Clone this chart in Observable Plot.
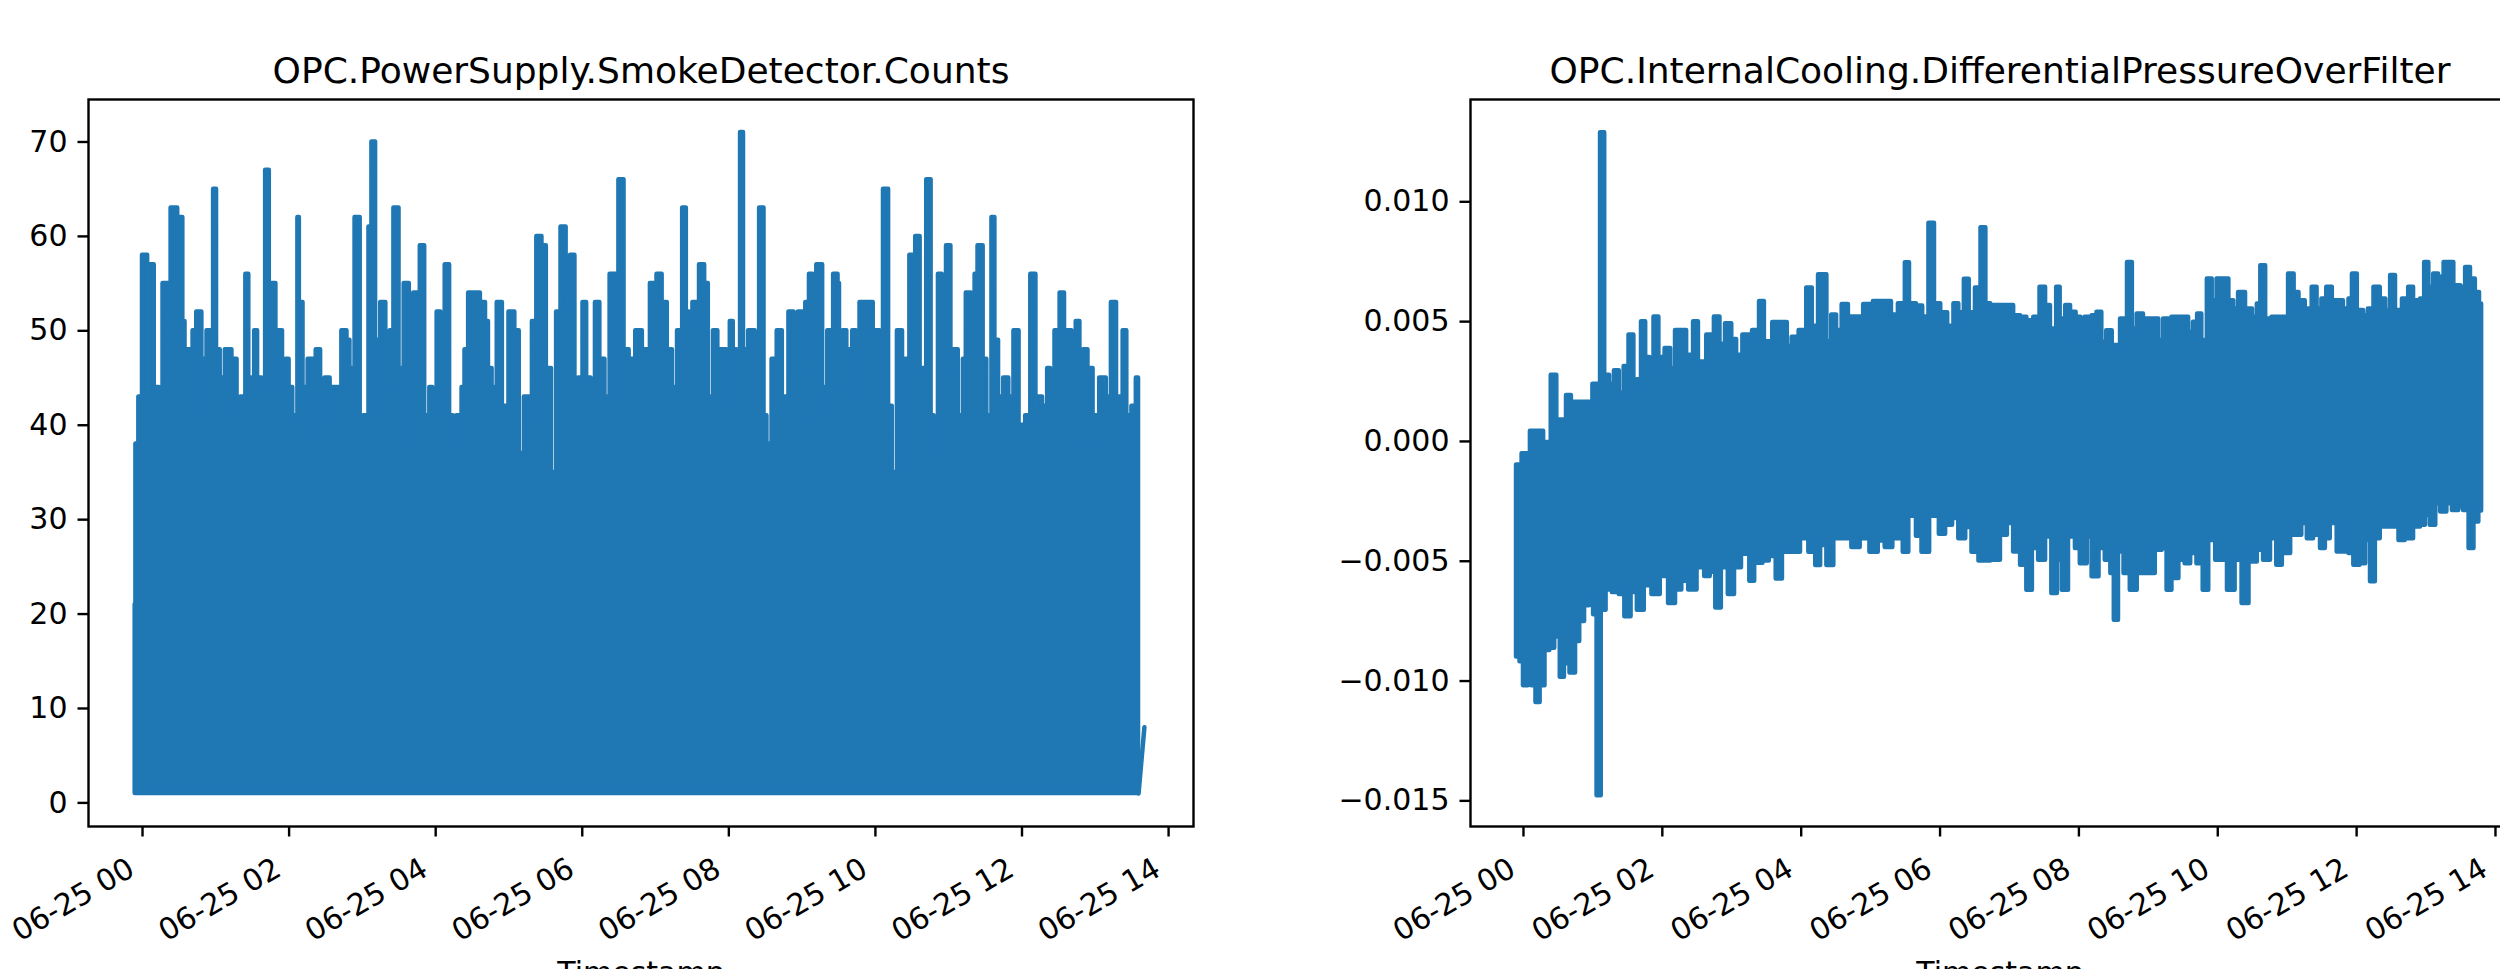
<!DOCTYPE html>
<html>
<head>
<meta charset="utf-8">
<script src="https://cdn.jsdelivr.net/npm/d3@7"></script>
<script src="https://cdn.jsdelivr.net/npm/@observablehq/plot@0.6"></script>
<style>
  body { margin: 0; background: #fff; overflow: hidden; }
  #fig { position: relative; width: 2500px; height: 969px; overflow: hidden; background: #fff; }
  .panel { position: absolute; top: 0; }
  .panel svg { max-width: none !important; display: block; }
</style>
</head>
<body>
<div id="fig">
  <div class="panel" id="left" style="left:0px"></div>
  <div class="panel" id="right" style="left:1250px"></div>
</div>
<script>
// ---------- text ----------
const smokeTitle = "OPC.PowerSupply.SmokeDetector.Counts";
const pressureTitle = "OPC.InternalCooling.DifferentialPressureOverFilter";
const xAxisLabel = "Timestamp";

// ---------- ticks ----------
const xTickHours = [0, 2, 4, 6, 8, 10, 12, 14];
const smokeYTicks = [0, 10, 20, 30, 40, 50, 60, 70];
const pressureYTicks = [-0.015, -0.010, -0.005, 0.000, 0.005, 0.010];

// ---------- smoke detector counts: skyline of the peaks (hours after 06-25 00:00) ----------
const smokeFloor = 1;
const smokeHours = [
  -0.10,-0.09,-0.05,0.00,0.07,0.09,0.16,0.23,0.28,0.39,0.48,0.55,0.58,0.67,0.69,0.74,0.81,0.85,0.88,0.97,
  1.01,1.06,1.13,1.22,1.29,1.34,1.41,1.45,1.49,1.53,1.57,1.63,1.68,1.73,1.77,1.82,1.91,1.96,2.00,2.05,
  2.12,2.14,2.19,2.26,2.33,2.37,2.43,2.49,2.56,2.72,2.79,2.83,2.90,2.97,3.02,3.09,3.13,3.18,3.25,3.32,
  3.38,3.43,3.50,3.57,3.64,3.70,3.79,3.85,3.92,3.96,4.02,4.07,4.13,4.19,4.24,4.29,4.36,4.40,4.45,4.61,
  4.68,4.72,4.77,4.84,4.91,5.00,5.08,5.14,5.21,5.28,5.32,5.38,5.45,5.51,5.58,5.65,5.71,5.78,5.84,5.90,
  5.95,6.01,6.06,6.12,6.18,6.24,6.31,6.38,6.50,6.57,6.64,6.73,6.82,6.93,7.02,7.09,7.16,7.23,7.30,7.37,
  7.42,7.46,7.51,7.60,7.67,7.72,7.79,7.85,7.97,8.02,8.06,8.11,8.16,8.20,8.27,8.36,8.42,8.48,8.52,8.59,
  8.66,8.73,8.82,8.89,8.95,9.01,9.05,9.10,9.15,9.20,9.28,9.35,9.43,9.49,9.51,9.56,9.61,9.65,9.69,9.74,
  9.79,9.97,10.06,10.11,10.18,10.23,10.30,10.37,10.41,10.47,10.55,10.61,10.70,10.76,10.80,10.86,10.91,10.97,11.03,11.13,
  11.20,11.24,11.31,11.36,11.40,11.47,11.52,11.59,11.63,11.68,11.75,11.82,11.89,11.96,12.00,12.05,12.12,12.19,12.28,12.35,
  12.39,12.45,12.52,12.58,12.68,12.74,12.79,12.84,12.90,12.97,13.02,13.06,13.15,13.22,13.29,13.38,13.43,13.50,13.56,13.59
];
const smokeCounts = [
  21,38,43,58,56,57,44,41,55,63,62,51,48,44,50,52,47,41,50,65,
  48,45,48,47,41,43,56,45,40,50,45,44,67,45,55,50,44,47,44,41,
  62,53,44,47,39,48,40,45,44,50,49,46,62,40,41,61,70,49,53,44,
  50,63,46,55,38,54,59,41,44,43,52,47,57,41,38,41,44,48,54,53,
  51,46,44,53,42,52,50,37,43,40,51,60,59,46,35,52,61,53,58,44,
  45,53,45,43,53,47,43,56,66,48,47,50,48,55,56,53,48,44,50,63,
  52,51,53,57,55,43,50,48,42,51,48,38,71,48,50,48,63,41,38,47,
  50,43,52,45,52,47,53,56,41,57,44,50,56,55,44,50,43,48,50,45,
  53,50,43,65,42,35,50,42,47,58,60,46,66,41,37,56,50,59,48,41,
  47,54,50,56,59,47,41,62,49,43,45,43,50,40,40,41,56,43,42,46,
  40,50,54,50,38,51,38,48,46,41,38,45,43,53,43,50,41,42,45,1
];
const smokeTailHours = [13.59, 13.67];
const smokeTailCounts = [1, 8];

// ---------- differential pressure: upper and lower envelopes ----------
const pressureUpperHours = [
  -0.10,-0.02,0.10,0.29,0.33,0.40,0.48,0.62,0.69,1.00,1.11,1.17,1.24,1.31,1.38,1.45,1.52,1.59,1.64,1.70,
  1.76,1.82,1.88,1.95,2.04,2.12,2.19,2.35,2.45,2.52,2.64,2.75,2.83,2.91,3.00,3.07,3.16,3.30,3.40,3.47,
  3.59,3.73,3.80,3.87,3.97,4.08,4.16,4.25,4.37,4.44,4.51,4.59,4.68,4.78,4.90,5.04,5.18,5.30,5.40,5.50,
  5.56,5.66,5.75,5.84,5.92,6.01,6.11,6.20,6.27,6.35,6.42,6.51,6.59,6.66,
  6.73,6.92,7.06,7.16,7.25,7.35,7.44,7.52,7.59,7.68,7.73,7.81,7.88,7.96,8.03,8.09,8.19,8.26,8.33,8.40,
  8.48,8.60,8.70,8.77,8.84,8.93,9.15,9.22,9.34,9.58,9.65,9.71,9.77,9.85,9.92,9.99,10.16,10.23,10.30,10.40,
  10.50,10.57,10.62,10.69,10.78,11.02,11.10,11.17,11.26,11.36,11.43,11.50,11.57,11.65,11.81,11.89,11.94,12.01,12.10,12.17,
  12.25,12.34,12.42,12.49,12.56,12.66,12.75,12.82,12.92,12.98,13.04,13.11,13.18,13.26,13.40,13.50,13.57,13.64,13.71,13.77,13.80
];
const pressureUpperValues = [
  -0.00098,-0.00051,0.00042,-0.00023,-0.00004,0.00276,0.00089,0.00192,0.00164,0.00239,0.01288,0.00276,0.00239,0.00295,0.00201,0.00313,0.00444,0.00201,0.00257,0.00500,
  0.00350,0.00304,0.00519,0.00350,0.00388,0.00304,0.00463,0.00360,0.00500,0.00332,0.00444,0.00519,0.00406,0.00491,0.00425,0.00360,0.00444,0.00463,0.00584,0.00416,
  0.00496,0.00496,0.00397,0.00435,0.00463,0.00640,0.00481,0.00696,0.00416,0.00528,0.00463,0.00571,0.00519,0.00519,0.00571,0.00584,0.00584,0.00528,0.00575,0.00746,
  0.00575,0.00565,0.00519,0.00911,0.00575,0.00537,0.00481,0.00575,0.00537,0.00677,0.00537,0.00640,0.00892,0.00575,
  0.00567,0.00567,0.00525,0.00518,0.00504,0.00518,0.00643,0.00567,0.00469,0.00643,0.00511,0.00567,0.00539,0.00518,0.00414,0.00518,0.00525,0.00539,0.00414,0.00462,
  0.00400,0.00511,0.00747,0.00469,0.00532,0.00511,0.00421,0.00511,0.00518,0.00456,0.00497,0.00532,0.00421,0.00678,0.00587,0.00678,0.00587,0.00553,0.00622,0.00553,
  0.00518,0.00574,0.00733,0.00511,0.00518,0.00699,0.00622,0.00587,0.00553,0.00643,0.00553,0.00594,0.00643,0.00587,0.00553,0.00594,0.00699,0.00546,0.00525,0.00553,
  0.00643,0.00594,0.00546,0.00692,0.00546,0.00594,0.00643,0.00587,0.00594,0.00747,0.00643,0.00699,0.00685,0.00747,0.00650,0.00643,0.00726,0.00678,0.00622,0.00574,0.00550
];
const pressureLowerHours = [
  -0.10,-0.05,0.00,0.07,0.12,0.18,0.24,0.31,0.38,0.45,0.53,0.59,0.67,0.75,0.81,0.88,0.95,1.01,1.06,1.12,
  1.19,1.28,1.38,1.46,1.55,1.64,1.74,1.85,1.97,2.09,2.19,2.28,2.38,2.50,2.61,2.69,2.77,2.85,2.95,3.04,
  3.14,3.26,3.33,3.45,3.54,3.64,3.73,3.87,3.99,4.11,4.21,4.28,4.37,4.47,4.59,4.73,4.85,4.99,5.11,5.21,
  5.32,5.47,5.55,5.66,5.74,5.85,5.99,6.08,6.18,6.27,6.37,6.46,6.56,6.66,
  6.73,6.87,6.97,7.06,7.16,7.25,7.33,7.42,7.52,7.61,7.69,7.76,7.85,7.95,8.02,8.12,8.19,8.29,8.38,8.46,
  8.51,8.57,8.65,8.74,8.84,9.10,9.20,9.27,9.34,9.44,9.53,9.61,9.70,9.79,9.87,9.97,10.14,10.25,10.35,10.45,
  10.57,10.66,10.76,10.85,10.93,11.05,11.21,11.29,11.38,11.48,11.55,11.62,11.72,11.89,11.96,12.05,12.13,12.20,12.27,12.34,
  12.61,12.70,12.82,12.92,12.99,13.06,13.14,13.21,13.30,13.38,13.47,13.54,13.62,13.69,13.76,13.80
];
const pressureLowerValues = [
  -0.00900,-0.00919,-0.01020,-0.00940,-0.01020,-0.01090,-0.01020,-0.00872,-0.00863,-0.00816,-0.00984,-0.00928,-0.00966,-0.00835,-0.00751,-0.00686,-0.00658,-0.00723,-0.01479,-0.00704,
  -0.00620,-0.00630,-0.00639,-0.00732,-0.00630,-0.00704,-0.00602,-0.00639,-0.00564,-0.00676,-0.00620,-0.00583,-0.00620,-0.00527,-0.00564,-0.00546,-0.00695,-0.00527,-0.00639,-0.00527,
  -0.00471,-0.00583,-0.00508,-0.00499,-0.00480,-0.00574,-0.00462,-0.00462,-0.00406,-0.00462,-0.00518,-0.00434,-0.00518,-0.00406,-0.00406,-0.00443,-0.00406,-0.00462,-0.00415,-0.00443,
  -0.00406,-0.00462,-0.00312,-0.00396,-0.00462,-0.00312,-0.00387,-0.00350,-0.00322,-0.00406,-0.00359,-0.00462,-0.00499,-0.00499,
  -0.00496,-0.00392,-0.00343,-0.00461,-0.00517,-0.00621,-0.00447,-0.00496,-0.00399,-0.00635,-0.00496,-0.00621,-0.00399,-0.00447,-0.00510,-0.00399,-0.00565,-0.00447,-0.00496,-0.00551,
  -0.00746,-0.00461,-0.00551,-0.00621,-0.00551,-0.00454,-0.00447,-0.00621,-0.00572,-0.00496,-0.00510,-0.00468,-0.00510,-0.00621,-0.00413,-0.00496,-0.00621,-0.00496,-0.00676,-0.00503,
  -0.00454,-0.00496,-0.00406,-0.00517,-0.00468,-0.00392,-0.00343,-0.00406,-0.00392,-0.00447,-0.00406,-0.00343,-0.00461,-0.00468,-0.00517,-0.00510,-0.00413,-0.00586,-0.00406,-0.00357,
  -0.00413,-0.00406,-0.00357,-0.00350,-0.00308,-0.00350,-0.00260,-0.00295,-0.00260,-0.00288,-0.00274,-0.00288,-0.00447,-0.00336,-0.00288,-0.00290
];

// ---------- helpers ----------
const t0 = Date.UTC(2023, 5, 25);
const toDate = h => new Date(t0 + h * 3600000);
const fmtTick = d3.utcFormat("%m-%d %H");
const blue = "#1f77b4";

const smokeData = smokeHours.map((h, i) => ({t: toDate(h), v: smokeCounts[i]}));
const smokeTail = smokeTailHours.map((h, i) => ({t: toDate(h), v: smokeTailCounts[i]}));

function stepAt(hs, vs, h) {
  let i = d3.bisectRight(hs, h) - 1;
  if (i < 0) i = 0;
  return vs[i];
}
const bandHours = Array.from(new Set([...pressureUpperHours, ...pressureLowerHours])).sort((a, b) => a - b);
const pressureBand = bandHours.map(h => ({
  t: toDate(h),
  lo: stepAt(pressureLowerHours, pressureLowerValues, h),
  hi: stepAt(pressureUpperHours, pressureUpperValues, h)
}));

function panel({width, marginLeft, marginRight, xDomain, yDomain, yTicks, yFormat, dataMarks, title}) {
  return Plot.plot({
    width,
    height: 969,
    marginTop: 99,
    marginBottom: 143,
    marginLeft,
    marginRight,
    style: {fontFamily: "'DejaVu Sans', sans-serif", fontSize: "30px", color: "black", background: "white", overflow: "visible"},
    x: {type: "utc", domain: xDomain.map(toDate)},
    y: {domain: yDomain},
    marks: [
      ...dataMarks,
      Plot.frame({stroke: "black", strokeWidth: 2.4}),
      Plot.axisY({ticks: yTicks, tickFormat: yFormat, tickSize: 10.5, tickPadding: 10.5, strokeWidth: 2.4, label: null, fontSize: 30}),
      Plot.axisX({ticks: xTickHours.map(toDate), tickSize: 10.5, strokeWidth: 2.4, tickFormat: () => "", label: null}),
      Plot.text(xTickHours.map(toDate), {x: d => d, text: d => fmtTick(d), frameAnchor: "bottom", dx: -6, dy: 48, rotate: -30, textAnchor: "end", lineAnchor: "bottom", fontSize: 30}),
      Plot.text([xAxisLabel], {text: d => d, frameAnchor: "bottom", dy: 156, lineAnchor: "bottom", fontSize: 30}),
      Plot.text([title], {text: d => d, frameAnchor: "top", dy: -17, lineAnchor: "bottom", fontSize: 36})
    ]
  });
}

const left = panel({
  width: 1250, marginLeft: 88, marginRight: 57,
  xDomain: [-0.737, 14.34], yDomain: [-2.5, 74.5],
  yTicks: smokeYTicks, yFormat: d => String(d),
  title: smokeTitle,
  dataMarks: [
    Plot.areaY(smokeData, {x: "t", y1: smokeFloor, y2: "v", curve: "step-after", fill: blue, stroke: blue, strokeWidth: 4.5, strokeLinejoin: "round"}),
    Plot.line(smokeTail, {x: "t", y: "v", stroke: blue, strokeWidth: 4.5, strokeLinecap: "round"})
  ]
});
document.getElementById("left").appendChild(left);

const right = panel({
  width: 1300, marginLeft: 220, marginRight: 21,
  xDomain: [-0.763, 14.49], yDomain: [-0.01607, 0.01427],
  yTicks: pressureYTicks, yFormat: d3.format(".3f"),
  title: pressureTitle,
  dataMarks: [
    Plot.areaY(pressureBand, {x: "t", y1: "lo", y2: "hi", curve: "step-after", fill: blue, stroke: blue, strokeWidth: 4.5, strokeLinejoin: "round"})
  ]
});
document.getElementById("right").appendChild(right);
</script>
</body>
</html>
